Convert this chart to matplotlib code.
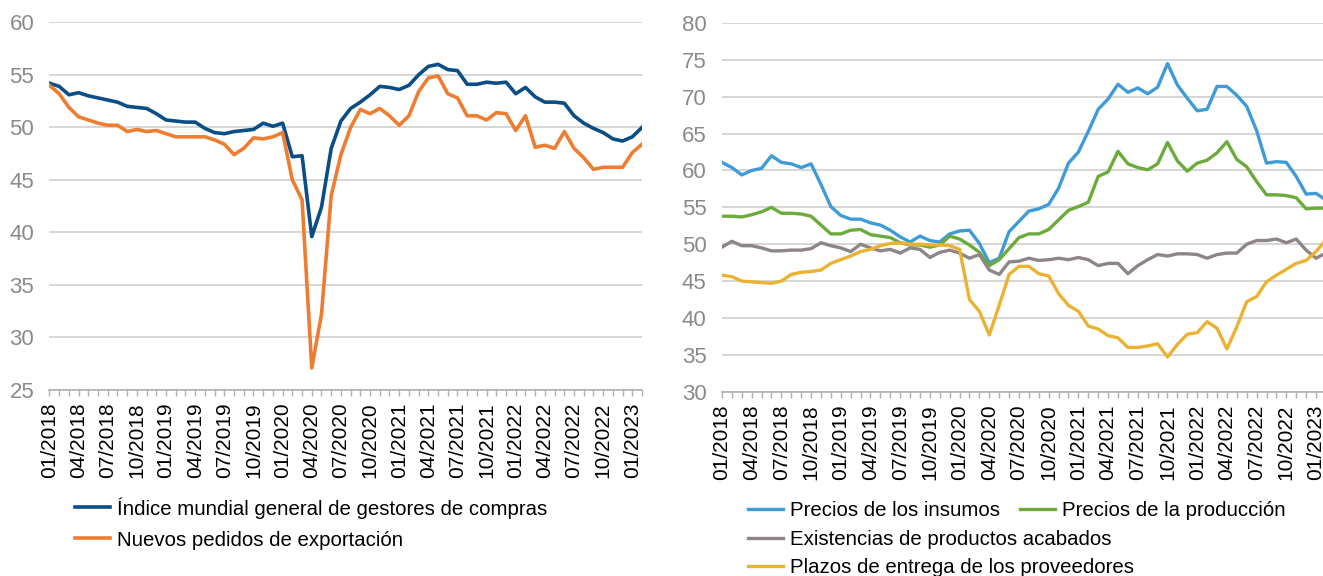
import numpy as np
import matplotlib.pyplot as plt

plt.rcParams['font.family'] = ['Liberation Sans', 'DejaVu Sans']

#%% Datos (enero 2018 - febrero 2023, mensual)
meses = [f'{m:02d}/{a}' for a in range(2018, 2024) for m in range(1, 13)][:62]

pmi_general = [54.2, 53.9, 53.1, 53.3, 53.0, 52.8, 52.6, 52.4, 52.0, 51.9, 51.8, 51.3,
               50.7, 50.6, 50.5, 50.5, 49.9, 49.5, 49.4, 49.6, 49.7, 49.8, 50.4, 50.1,
               50.4, 47.2, 47.3, 39.6, 42.4, 48.0, 50.6, 51.8, 52.4, 53.1, 53.9, 53.8,
               53.6, 54.0, 55.0, 55.8, 56.0, 55.5, 55.4, 54.1, 54.1, 54.3, 54.2, 54.3,
               53.2, 53.8, 52.9, 52.4, 52.4, 52.3, 51.1, 50.4, 49.9, 49.5, 48.9, 48.7,
               49.1, 50.0]
pedidos_export = [54.0, 53.2, 51.9, 51.0, 50.7, 50.4, 50.2, 50.2, 49.6, 49.8, 49.6, 49.7,
                  49.4, 49.1, 49.1, 49.1, 49.1, 48.8, 48.4, 47.4, 48.0, 49.0, 48.9, 49.1,
                  49.5, 45.0, 43.1, 27.1, 32.2, 43.5, 47.4, 50.0, 51.7, 51.3, 51.8, 51.1,
                  50.2, 51.1, 53.4, 54.7, 54.9, 53.2, 52.8, 51.1, 51.1, 50.7, 51.4, 51.3,
                  49.7, 51.1, 48.1, 48.3, 48.0, 49.6, 48.0, 47.1, 46.0, 46.2, 46.2, 46.2,
                  47.6, 48.4]

precios_insumos = [61.1, 60.4, 59.4, 60.0, 60.3, 62.0, 61.1, 60.9, 60.4, 60.9, 58.1, 55.1,
                   53.9, 53.4, 53.4, 52.9, 52.6, 51.9, 51.0, 50.3, 51.1, 50.5, 50.3, 51.4,
                   51.8, 51.9, 50.1, 47.5, 48.1, 51.7, 53.1, 54.5, 54.8, 55.4, 57.6, 61.0,
                   62.5, 65.3, 68.3, 69.7, 71.7, 70.6, 71.2, 70.4, 71.3, 74.5, 71.6, 69.8,
                   68.1, 68.3, 71.4, 71.4, 70.2, 68.7, 65.4, 61.0, 61.2, 61.1, 59.2, 56.8,
                   56.9, 56.0]
precios_produccion = [53.8, 53.8, 53.7, 54.0, 54.4, 55.0, 54.2, 54.2, 54.1, 53.8, 52.6, 51.4,
                      51.4, 51.9, 52.0, 51.3, 51.1, 50.9, 50.2, 49.9, 49.9, 49.6, 49.9, 51.1,
                      50.7, 49.9, 48.9, 47.1, 47.9, 49.4, 50.9, 51.4, 51.4, 52.0, 53.3, 54.6,
                      55.1, 55.7, 59.2, 59.8, 62.6, 60.9, 60.4, 60.1, 60.9, 63.8, 61.3, 59.9,
                      61.0, 61.4, 62.4, 63.9, 61.5, 60.5, 58.5, 56.7, 56.7, 56.6, 56.3, 54.8,
                      54.9, 54.9]
existencias = [49.6, 50.4, 49.8, 49.8, 49.5, 49.1, 49.1, 49.2, 49.2, 49.4, 50.2, 49.8,
               49.5, 49.0, 50.0, 49.5, 49.1, 49.3, 48.8, 49.5, 49.3, 48.2, 48.9, 49.2,
               48.8, 48.1, 48.6, 46.5, 45.9, 47.6, 47.7, 48.1, 47.8, 47.9, 48.1, 47.9,
               48.2, 47.9, 47.1, 47.4, 47.4, 46.0, 47.1, 47.9, 48.6, 48.4, 48.7, 48.7,
               48.6, 48.1, 48.6, 48.8, 48.8, 50.0, 50.5, 50.5, 50.7, 50.2, 50.7, 49.2,
               48.1, 48.8]
plazos_entrega = [45.8, 45.6, 45.0, 44.9, 44.8, 44.7, 45.0, 45.9, 46.2, 46.3, 46.5, 47.4,
                  47.9, 48.4, 49.0, 49.3, 49.8, 50.1, 50.2, 50.0, 50.0, 49.9, 49.9, 49.8,
                  49.3, 42.5, 40.9, 37.7, 41.7, 45.9, 47.0, 47.0, 46.0, 45.7, 43.3, 41.7,
                  40.9, 38.9, 38.5, 37.6, 37.3, 36.0, 36.0, 36.2, 36.5, 34.7, 36.4, 37.8,
                  38.0, 39.5, 38.6, 35.8, 38.8, 42.2, 42.9, 44.9, 45.8, 46.6, 47.4, 47.8,
                  49.0, 50.6]

#%% Figura
fig = plt.figure(figsize=(13.23, 5.76), dpi=100)
ax1 = fig.add_axes([0.0374, 0.3229, 0.4479, 0.6384])
ax2 = fig.add_axes([0.5457, 0.3200, 0.4565, 0.6400])

x = np.arange(len(meses))
etiquetas = [m if i % 3 == 0 else '' for i, m in enumerate(meses)]

l1, = ax1.plot(x, pmi_general, c='#0b4d85', lw=2.6, label='Índice mundial general de gestores de compras')
l2, = ax1.plot(x, pedidos_export, c='#ee7d31', lw=2.6, label='Nuevos pedidos de exportación')

r1, = ax2.plot(x, precios_insumos, c='#3f9bd8', lw=2.4, label='Precios de los insumos')
r2, = ax2.plot(x, precios_produccion, c='#6aab3b', lw=2.4, label='Precios de la producción')
r3, = ax2.plot(x, existencias, c='#8d8586', lw=2.4, label='Existencias de productos acabados')
r4, = ax2.plot(x, plazos_entrega, c='#ebb232', lw=2.4, label='Plazos de entrega de los proveedores')

ax1.set_ylim(25, 60)
ax2.set_ylim(30, 80)
ax1.set_yticks(np.arange(25, 61, 5))
ax2.set_yticks(np.arange(30, 81, 5))

for a in (ax1, ax2):
    a.set_xlim(0, len(meses) - 1)
    a.set_xticks(x)
    a.set_xticklabels(etiquetas, rotation=90, fontsize=15, color='black')
    a.tick_params(axis='x', length=4, width=1, color='#b0b0b0', pad=5)
    a.tick_params(axis='y', length=0, pad=11, labelsize=16, labelcolor='#8a8a8a')
    a.grid(axis='y', color='#cfcfcf', lw=1.2)
    a.set_axisbelow(True)
    for s in ('top', 'right', 'left'):
        a.spines[s].set_visible(False)
    a.spines['bottom'].set_color('#b0b0b0')
    a.spines['bottom'].set_linewidth(1.2)

#%% Leyendas
kw = dict(loc='upper left', frameon=False, fontsize=14.7, borderpad=0, borderaxespad=0,
          handlelength=1.7, handletextpad=0.35)
fig.legend(handles=[l1, l2], bbox_to_anchor=(0.0567, 0.137), labelspacing=0.59, **kw)
fig.legend(handles=[r1, r2], bbox_to_anchor=(0.5654, 0.130), ncols=2, columnspacing=1.0, **kw)
fig.legend(handles=[r3, r4], bbox_to_anchor=(0.5654, 0.080), labelspacing=0.45, **kw)

fig.savefig('out.png', dpi=100)
